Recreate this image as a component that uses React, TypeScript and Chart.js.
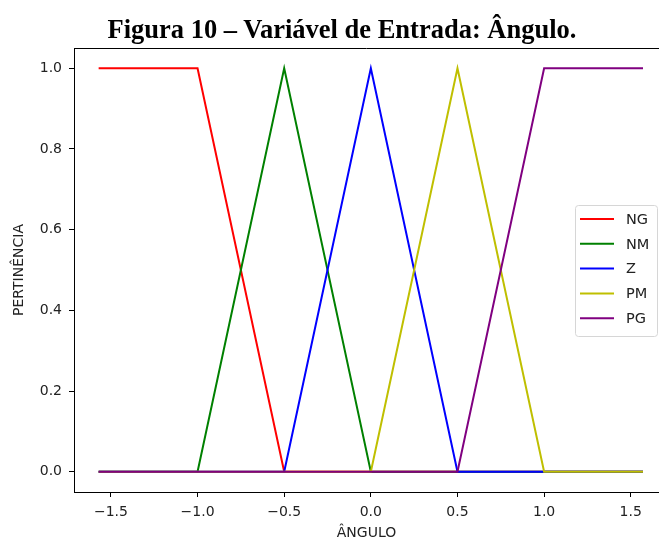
import React, { useEffect, useRef } from "react";
import { Chart, registerables } from "chart.js";

Chart.register(...registerables);

// Membership functions (x = angle in rad, y = membership)
const xNG = [-1.5708, -1.0, -0.5, 1.5708];
const yNG = [1, 1, 0, 0];
const xNM = [-1.5708, -1.0, -0.5, 0.0, 1.5708];
const yNM = [0, 0, 1, 0, 0];
const xZ = [-1.5708, -0.5, 0.0, 0.5, 1.5708];
const yZ = [0, 0, 1, 0, 0];
const xPM = [-1.5708, 0.0, 0.5, 1.0, 1.5708];
const yPM = [0, 0, 1, 0, 0];
const xPG = [-1.5708, 0.5, 1.0, 1.5708];
const yPG = [0, 0, 1, 1];

const seriesLabels = ["NG", "NM", "Z", "PM", "PG"];
const seriesColors = ["#ff0000", "#008000", "#0000ff", "#bfbf00", "#800080"];
const seriesX = [xNG, xNM, xZ, xPM, xPG];
const seriesY = [yNG, yNM, yZ, yPM, yPG];

const xTickValues = [-1.5, -1.0, -0.5, 0.0, 0.5, 1.0, 1.5];
const yTickValues = [0.0, 0.2, 0.4, 0.6, 0.8, 1.0];

const titleText = "Figura 10 – Variável de Entrada: Ângulo.";
const xAxisTitle = "ÂNGULO";
const yAxisTitle = "PERTINÊNCIA";

const FONT = "'DejaVu Sans', sans-serif";

const fmt = (v: number) => v.toFixed(1).replace("-", "\u2212");

const framePlugin = {
  id: "frameTop",
  afterDraw(chart: any) {
    const { ctx, chartArea } = chart;
    ctx.save();
    ctx.strokeStyle = "#000";
    ctx.lineWidth = 1;
    ctx.beginPath();
    ctx.moveTo(chartArea.left, chartArea.top + 0.5);
    ctx.lineTo(chartArea.right, chartArea.top + 0.5);
    ctx.stroke();
    ctx.restore();
  },
};

const legendPlugin = {
  id: "boxLegend",
  afterDraw(chart: any) {
    const { ctx } = chart;
    const ds = chart.data.datasets;
    const bx = 575.5, by = 205.5, bw = 82, bh = 131, r = 3;
    ctx.save();
    ctx.beginPath();
    ctx.moveTo(bx + r, by);
    ctx.lineTo(bx + bw - r, by);
    ctx.quadraticCurveTo(bx + bw, by, bx + bw, by + r);
    ctx.lineTo(bx + bw, by + bh - r);
    ctx.quadraticCurveTo(bx + bw, by + bh, bx + bw - r, by + bh);
    ctx.lineTo(bx + r, by + bh);
    ctx.quadraticCurveTo(bx, by + bh, bx, by + bh - r);
    ctx.lineTo(bx, by + r);
    ctx.quadraticCurveTo(bx, by, bx + r, by);
    ctx.closePath();
    ctx.fillStyle = "rgba(255,255,255,0.8)";
    ctx.fill();
    ctx.strokeStyle = "#d6d6d6";
    ctx.lineWidth = 1;
    ctx.stroke();
    ctx.font = `14.5px ${FONT}`;
    ctx.textBaseline = "middle";
    ctx.textAlign = "left";
    ds.forEach((d: any, i: number) => {
      const y = 219 + i * 24.8;
      ctx.strokeStyle = d.borderColor;
      ctx.lineWidth = 2;
      ctx.beginPath();
      ctx.moveTo(580, y);
      ctx.lineTo(614, y);
      ctx.stroke();
      ctx.fillStyle = "#222";
      ctx.fillText(d.label, 626, y + 1);
    });
    ctx.restore();
  },
};

export default function App() {
  const ref = useRef<HTMLCanvasElement | null>(null);

  useEffect(() => {
    if (!ref.current) return;
    const n = seriesLabels.length;
    const datasets = seriesLabels.map((label, i) => ({
      label,
      data: seriesX[i].map((x, j) => ({ x, y: seriesY[i][j] })),
      borderColor: seriesColors[i],
      backgroundColor: seriesColors[i],
      borderWidth: 2,
      pointRadius: 0,
      tension: 0,
      fill: false,
      order: n - i,
    }));
    const chart = new Chart(ref.current, {
      type: "line",
      data: { datasets },
      options: {
        animation: false,
        responsive: false,
        layout: { padding: { top: 48, right: 0, left: 0, bottom: 0 } },
        plugins: {
          legend: { display: false },
          tooltip: { enabled: false },
          title: { display: false },
        },
        scales: {
          x: {
            type: "linear",
            min: -1.713,
            max: 1.663,
            afterFit: (s: any) => {
              s.height = 51;
            },
            afterBuildTicks: (s: any) => {
              s.ticks = xTickValues.map((value) => ({ value }));
            },
            grid: {
              drawOnChartArea: false,
              drawTicks: true,
              tickLength: 5,
              tickColor: "#000",
            },
            border: { color: "#000", width: 1 },
            ticks: {
              color: "#222",
              font: { family: FONT, size: 14 },
              padding: 7,
              maxRotation: 0,
              autoSkip: false,
              callback: (v: any) => fmt(Number(v)),
            },
            title: {
              display: true,
              text: xAxisTitle,
              color: "#222",
              font: { family: FONT, size: 14 },
              padding: { top: 0, bottom: 1 },
            },
          },
          y: {
            type: "linear",
            min: -0.05,
            max: 1.05,
            afterFit: (s: any) => {
              s.width = 74;
            },
            afterBuildTicks: (s: any) => {
              s.ticks = yTickValues.map((value) => ({ value }));
            },
            grid: {
              drawOnChartArea: false,
              drawTicks: true,
              tickLength: 5,
              tickColor: "#000",
            },
            border: { color: "#000", width: 1 },
            ticks: {
              color: "#222",
              font: { family: FONT, size: 14 },
              padding: 7,
              autoSkip: false,
              callback: (v: any) => fmt(Number(v)),
            },
            title: {
              display: true,
              text: yAxisTitle,
              color: "#222",
              font: { family: FONT, size: 14 },
              padding: { top: 11, bottom: 0 },
            },
          },
        },
      },
      plugins: [framePlugin, legendPlugin],
    });
    return () => chart.destroy();
  }, []);

  return (
    <div
      style={{
        position: "fixed",
        left: 0,
        top: 0,
        width: 659,
        height: 543,
        background: "#fff",
        overflow: "hidden",
      }}
    >
      <canvas ref={ref} width={659} height={543} style={{ display: "block" }} />
      <div
        style={{
          position: "absolute",
          left: 342,
          top: 29,
          transform: "translate(-50%, -50%)",
          whiteSpace: "nowrap",
          fontFamily: "'Liberation Serif', 'Times New Roman', serif",
          fontWeight: "bold",
          fontSize: 26.5,
          color: "#000",
          lineHeight: 1,
        }}
      >
        {titleText}
      </div>
    </div>
  );
}
